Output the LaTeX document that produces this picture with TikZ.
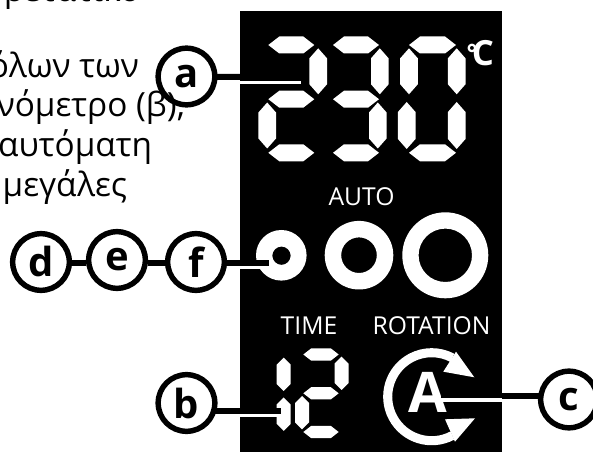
\documentclass[tikz,border=0pt]{standalone}
\usepackage{fontspec}
\setmainfont{Open Sans}
\newcommand{\segH}[5]{\fill[white] (#1,#2) ++(-#3,0) -- ++(#5,-#4) -- ++({2*#3-2*#5},0) -- ++(#5,#4) -- ++(-#5,#4) -- ++({-2*#3+2*#5},0) -- cycle;}
\newcommand{\segV}[5]{\fill[white] (#1,#2) ++(0,-#4) -- ++(#3,#5) -- ++(0,{2*#4-2*#5}) -- ++(-#3,#5) -- ++(-#3,-#5) -- ++(0,{-2*#4+2*#5}) -- cycle;}
\tikzset{
  callout/.style={circle,draw=black,line width=4.1pt,inner sep=0pt,outer sep=0pt,minimum size=42.5pt,font=\fontsize{30}{30}\selectfont\bfseries},
  body/.style={inner sep=0pt,outer sep=0pt,anchor=base east,font=\fontsize{25}{26}\selectfont},
  panel/.style={inner sep=0pt,outer sep=0pt,anchor=base,text=white,font=\fontsize{18.5}{19}\selectfont},
  blackline/.style={draw=black,line width=4.5pt},
  whiteline/.style={draw=white,line width=2.6pt},
}
\begin{document}
\begin{tikzpicture}[x=.75pt,y=-.75pt]
\clip (0,0) rectangle (593,452);
\fill[white] (0,0) rectangle (593,452);
% body text
\node[body] (t0) at (140,2) {ρετατικό};
\node[body] (t1) at (139,78) {όλων των};
\node[body] (t2) at (185,117) {νόμετρο (β),};
\node[body] (t3) at (152,157) {αυτόματη};
\node[body] (t4) at (127,197) {μεγάλες};
% panel
\fill[black] (240,11) rectangle (502,452);
% 230
\segH{291.3}{45}{23}{8.5}{11}\segV{318.2}{71.3}{8.8}{23}{10}
\segH{291.3}{99.2}{23}{8.5}{11}\segV{267.2}{125.5}{8.8}{23}{10}
\segH{291.3}{152.8}{23}{8.5}{11}
\segH{356}{45}{23}{8.5}{11}\segV{379.8}{71.3}{8.8}{23}{10}
\segH{356}{99.2}{23}{8.5}{11}\segV{377.8}{125.5}{8.8}{23}{10}
\segH{356}{152.8}{23}{8.5}{11}
\segH{432.5}{45}{23.5}{8.5}{11}\segH{432.5}{152.8}{23.5}{8.5}{11}
\segV{409}{71.3}{8.8}{23}{10}\segV{406.7}{125.5}{8.8}{23.5}{10}
\segV{456.7}{71.3}{8.8}{23}{10}\segV{456.7}{125.5}{8.8}{23.5}{10}
\node[inner sep=0pt,outer sep=0pt,anchor=base east,text=white,font=\fontsize{26}{26}\selectfont\bfseries] (deg) at (494,66) {\raisebox{.1em}{\fontsize{19}{19}\selectfont °}\kern-.16em C};
% labels
\node[panel] (auto) at (361.5,206) {AUTO};
\node[panel] (time) at (309,335) {TIME};
\node[panel] (rot) at (431.5,335) {ROTATION};
% buttons
\fill[white,even odd rule] (281.3,255.3) circle[radius=25.3] (281.5,255.7) circle[radius=9.2];
\fill[white,even odd rule] (359,255.2) circle[radius=34.3] (359,255.2) circle[radius=17.8];
\fill[white,even odd rule] (445.3,255.3) circle[radius=43] (445.3,255.3) circle[radius=26.7];
% 12
\segV{283.7}{374.3}{7}{16.7}{7}\segV{283.7}{414.2}{7}{16.7}{7}
\segH{321}{354.5}{17.7}{6.2}{8}\segH{321}{393.3}{17.7}{6.2}{8}\segH{321}{432}{17.7}{6.2}{8}
\segV{341.5}{373.3}{7}{16.7}{7}\segV{302}{412.7}{7}{16.7}{7}
% rotation icon
\draw[white,line width=6.8pt] (452.36,435.55) arc[start angle=62,end angle=298,radius=44];
\fill[white] (474.3,377.3) -- (456,351.7) -- (443.3,371.7) -- cycle;
\fill[white] (475,418.3) -- (455,441.7) -- (445,419.3) -- cycle;
\node[inner sep=0pt,outer sep=0pt,anchor=base,text=white,font=\fontsize{42}{42}\selectfont\bfseries] (bigA) at (428,412) {A};
% callouts
\node[callout] (a) at (186.5,76.5) {a};
\node[callout] (b) at (186.5,403) {b};
\node[callout] (c) at (569,399.5) {c};
\node[callout] (d) at (41,262) {d};
\node[callout] (e) at (117,260) {e};
\node[callout] (f) at (196,262) {f};
% connector ends
\coordinate (a1) at (240,77);
\coordinate (a2) at (240,82.5);
\coordinate (a3) at (301,82.5);
\coordinate (f1) at (269.3,263);
\coordinate (f2) at (240,267.5);
\coordinate (f3) at (269.3,267.5);
\coordinate (b1) at (281,411);
\coordinate (b2) at (240,415.5);
\coordinate (b3) at (279,415.5);
\coordinate (c1) at (441,396);
\coordinate (c2) at (502,400);
\coordinate (c3) at (441,400);
\coordinate (de1) at (72,263);\coordinate (de2) at (86,263);
\coordinate (ef1) at (148,263);\coordinate (ef2) at (165,263);
% connectors
\draw[blackline] (de1) -- (de2);
\draw[blackline] (ef1) -- (ef2);
\draw[blackline] (a) -- (a1);
\draw[whiteline] (a2) -- (a3);
\draw[blackline] (f.east |- f1) -- (f1);
\draw[whiteline] (f2) -- (f3);
\draw[blackline] (b.east |- b1) -- (b1);
\draw[whiteline] (b2) -- (b3);
\draw[blackline] (c.west |- c1) -- (c1);
\draw[whiteline] (c2) -- (c3);
\useasboundingbox (0,0) rectangle (593,452);
\end{tikzpicture}
\end{document}
